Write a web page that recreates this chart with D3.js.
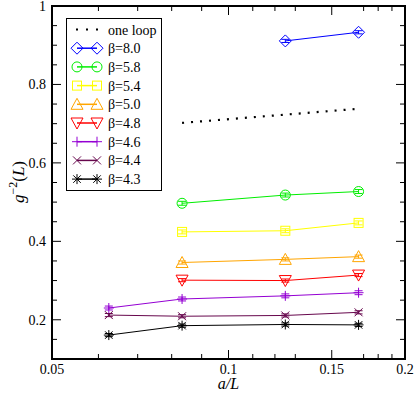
<!DOCTYPE html>
<html>
<head>
<meta charset="utf-8">
<script src="https://cdnjs.cloudflare.com/ajax/libs/d3/7.8.5/d3.min.js"></script>
<style>
  body { margin: 0; background: #fff; }
</style>
</head>
<body>
<div class="chart"></div>
<script>
const w = 415;
const h = 393;
const margin = {top: 6, right: 10, bottom: 34, left: 52};

// a/L values
const aL = [1/16, 1/12, 1/8, 1/6];

const betas = ["β=8.0", "β=5.8", "β=5.4", "β=5.0", "β=4.8", "β=4.6", "β=4.4", "β=4.3"];
const colors = ["#0000ff", "#00ee00", "#ffff00", "#ffa500", "#ff0000", "#9400d3", "#67074d", "#000000"];
const symbols = ["diamond", "circle", "square", "triangleUp", "triangleDown", "plus", "cross", "star"];

// g^-2(L) values, null where no point
const g8_0 = [null, null, 0.911, 0.933];
const g5_8 = [null, 0.497, 0.518, 0.527];
const g5_4 = [null, 0.424, 0.427, 0.447];
const g5_0 = [null, 0.346, 0.354, 0.361];
const g4_8 = [null, 0.301, 0.300, 0.314];
const g4_6 = [0.230, 0.253, 0.261, 0.269];
const g4_4 = [0.212, 0.209, 0.211, 0.219];
const g4_3 = [0.161, 0.185, 0.188, 0.187];
const series = [g8_0, g5_8, g5_4, g5_0, g4_8, g4_6, g4_4, g4_3];
const errs = [0.004, 0.005, 0.005, 0.004, 0.004, 0.005, 0.004, 0.004];

// one loop line
const oneLoopX = [1/12, 1/6];
const oneLoopY = [0.702, 0.738];

const xMajor = [0.05, 0.1, 0.15, 0.2];
const xMinor = [0.06, 0.07, 0.08, 0.09, 0.11, 0.12, 0.13, 0.17, 0.18, 0.19];
const yMajor = [0.2, 0.4, 0.6, 0.8, 1];
const yMinor = d3.range(0.15, 1.0, 0.05).filter(v => Math.abs(v * 5 - Math.round(v * 5)) > 1e-6);

const svg = d3.select(".chart").append("svg")
    .attr("width", w)
    .attr("height", h);

svg.append("rect").attr("width", w).attr("height", h).attr("fill", "#fff");

const x = d3.scaleLog()
    .domain([0.05, 0.2])
    .range([margin.left, w - margin.right]);

const y = d3.scaleLinear()
    .domain([0.1, 1])
    .range([h - margin.bottom, margin.top]);

const x0 = x.range()[0], x1 = x.range()[1];
const y0 = y.range()[0], y1 = y.range()[1];

// ticks, inward, on all four sides
const tickG = svg.append("g").attr("stroke", "#000").attr("stroke-width", 1);
function vTicks(vals, len) {
  vals.forEach(v => {
    tickG.append("line").attr("x1", x(v)).attr("x2", x(v)).attr("y1", y0).attr("y2", y0 - len);
    tickG.append("line").attr("x1", x(v)).attr("x2", x(v)).attr("y1", y1).attr("y2", y1 + len);
  });
}
function hTicks(vals, len) {
  vals.forEach(v => {
    tickG.append("line").attr("y1", y(v)).attr("y2", y(v)).attr("x1", x0).attr("x2", x0 + len);
    tickG.append("line").attr("y1", y(v)).attr("y2", y(v)).attr("x1", x1).attr("x2", x1 - len);
  });
}
vTicks(xMajor, 9);
vTicks(xMinor, 5);
hTicks(yMajor, 9);
hTicks(yMinor, 5);

// frame
svg.append("rect")
    .attr("x", x0).attr("y", y1)
    .attr("width", x1 - x0).attr("height", y0 - y1)
    .attr("fill", "none").attr("stroke", "#000").attr("stroke-width", 2);

// tick labels
svg.selectAll(".xl").data(xMajor).enter().append("text")
    .attr("x", d => x(d)).attr("y", y0 + 15)
    .attr("text-anchor", "middle").attr("font-size", 14)
    .text(d => d3.format("")(d));

svg.selectAll(".yl").data(yMajor).enter().append("text")
    .attr("x", x0 - 6).attr("y", d => Math.max(y(d) + 5, 11))
    .attr("text-anchor", "end").attr("font-size", 14)
    .text(d => d3.format("")(d));

// axis titles
svg.append("text")
    .attr("x", x(0.1)).attr("y", h - 4)
    .attr("text-anchor", "middle").attr("font-size", 16)
    .attr("font-style", "italic")
    .text("a/L");

const yt = svg.append("text")
    .attr("transform", "translate(24," + 182 + ") rotate(-90)")
    .attr("text-anchor", "middle").attr("font-size", 17);
yt.append("tspan").attr("font-style", "italic").text("g");
yt.append("tspan").attr("font-size", 12).attr("dy", -7).text("−2");
yt.append("tspan").attr("dy", 7).text("(");
yt.append("tspan").attr("font-style", "italic").text("L");
yt.append("tspan").text(")");

// marker drawing
function marker(g, type, cx, cy, col, s) {
  const r = s / 2;
  const m = g.append("g").attr("fill", "none").attr("stroke", col).attr("stroke-width", 1);
  if (type === "diamond") {
    m.append("path").attr("d", `M${cx},${cy - r - 1}L${cx + r + 1},${cy}L${cx},${cy + r + 1}L${cx - r - 1},${cy}Z`);
  } else if (type === "circle") {
    m.append("circle").attr("cx", cx).attr("cy", cy).attr("r", r);
  } else if (type === "square") {
    m.append("rect").attr("x", cx - r + 0.5).attr("y", cy - r + 0.5).attr("width", s - 1).attr("height", s - 1);
  } else if (type === "triangleUp") {
    m.append("path").attr("d", `M${cx},${cy - r - 1}L${cx + r + 1},${cy + r}L${cx - r - 1},${cy + r}Z`);
  } else if (type === "triangleDown") {
    m.append("path").attr("d", `M${cx},${cy + r + 1}L${cx + r + 1},${cy - r}L${cx - r - 1},${cy - r}Z`);
  } else if (type === "plus") {
    m.append("path").attr("d", `M${cx - r},${cy}H${cx + r}M${cx},${cy - r}V${cy + r}`);
  } else if (type === "cross") {
    const q = r * 0.8;
    m.append("path").attr("d", `M${cx - q},${cy - q}L${cx + q},${cy + q}M${cx - q},${cy + q}L${cx + q},${cy - q}`);
  } else if (type === "star") {
    const q = r * 0.75;
    m.append("path").attr("d", `M${cx - r},${cy}H${cx + r}M${cx},${cy - r}V${cy + r}M${cx - q},${cy - q}L${cx + q},${cy + q}M${cx - q},${cy + q}L${cx + q},${cy - q}`);
  }
}

const line = d3.line()
    .defined(d => d.v !== null)
    .x(d => x(d.a))
    .y(d => y(d.v));

const plot = svg.append("g");

// one loop dotted line
plot.append("path")
    .datum(oneLoopX.map((a, i) => ({a: a, v: oneLoopY[i]})))
    .attr("d", line)
    .attr("fill", "none").attr("stroke", "#000")
    .attr("stroke-width", 2.2).attr("stroke-dasharray", "2,7");

series.forEach((vals, si) => {
  const pts = aL.map((a, i) => ({a: a, v: vals[i]}));
  const col = colors[si];
  plot.append("path")
      .datum(pts.filter(d => d.v !== null))
      .attr("d", line)
      .attr("fill", "none").attr("stroke", col).attr("stroke-width", 1);
  pts.filter(d => d.v !== null).forEach(d => {
    const px = x(d.a);
    const e = errs[si];
    // error bar
    plot.append("path")
        .attr("d", `M${px},${y(d.v - e)}V${y(d.v + e)}M${px - 4},${y(d.v - e)}H${px + 4}M${px - 4},${y(d.v + e)}H${px + 4}`)
        .attr("stroke", col).attr("fill", "none").attr("stroke-width", 1);
    marker(plot, symbols[si], px, y(d.v), col, 10);
  });
});

// legend
const lg = svg.append("g");
lg.append("rect")
    .attr("x", 66.5).attr("y", 18.5).attr("width", 95).attr("height", 172)
    .attr("fill", "#fff").attr("stroke", "#000").attr("stroke-width", 1);

const rowY = i => 29.5 + i * 18.7;
const lx0 = 77, lx1 = 97, tx = 108;

lg.append("line")
    .attr("x1", lx0 - 1).attr("x2", lx1 + 1).attr("y1", rowY(0)).attr("y2", rowY(0))
    .attr("stroke", "#000").attr("stroke-width", 2.2).attr("stroke-dasharray", "2,8");
lg.append("text").attr("x", tx).attr("y", rowY(0) + 5).attr("font-size", 14).text("one loop");

betas.forEach((b, i) => {
  const yy = rowY(i + 1);
  lg.append("line")
      .attr("x1", lx0).attr("x2", lx1).attr("y1", yy).attr("y2", yy)
      .attr("stroke", colors[i]).attr("stroke-width", 1.5);
  marker(lg, symbols[i], lx0, yy, colors[i], 10);
  marker(lg, symbols[i], lx1, yy, colors[i], 10);
  lg.append("text").attr("x", tx).attr("y", yy + 5).attr("font-size", 14).text(b);
});

// serif font everywhere
svg.selectAll("text").style("font-family", "'Liberation Serif'");
</script>
</body>
</html>
